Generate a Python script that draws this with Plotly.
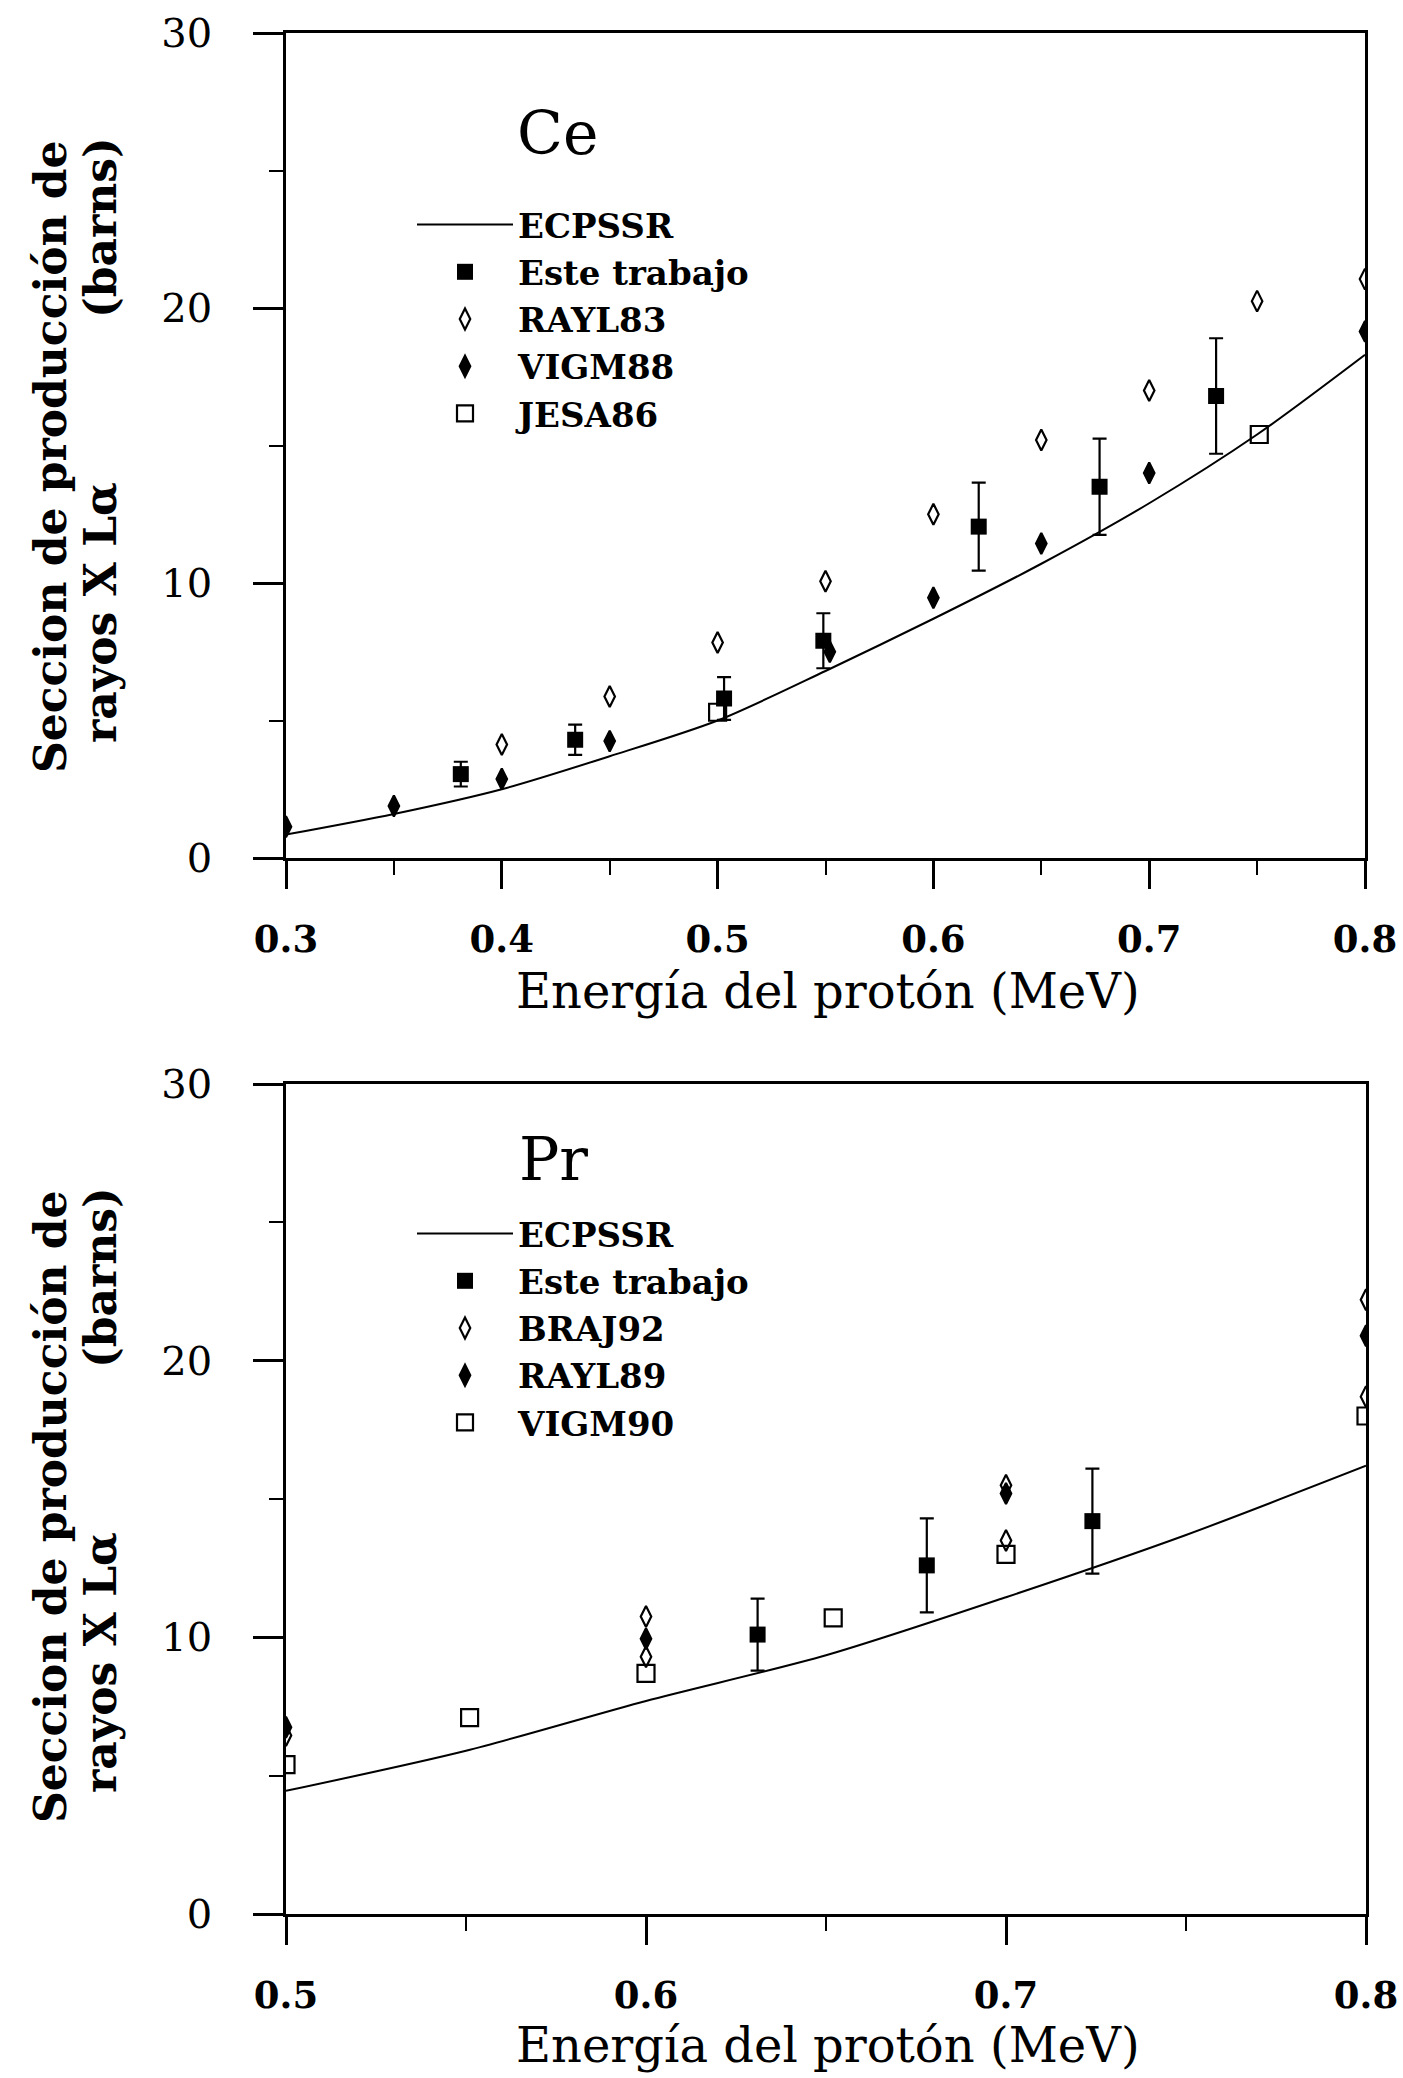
import plotly.graph_objects as go

W, H = 1403, 2078

# ---------------- Ce data ----------------
ce_curve_x = [0.30, 0.35, 0.40, 0.45, 0.50, 0.55, 0.60, 0.65, 0.70, 0.75, 0.80]
ce_curve_y = [0.85, 1.6, 2.5, 3.7, 5.0, 6.8, 8.7, 10.7, 12.9, 15.4, 18.3]

ce_este_x = [0.381, 0.434, 0.503, 0.549, 0.621, 0.677, 0.731]
ce_este_y = [3.05, 4.3, 5.8, 7.9, 12.05, 13.5, 16.8]
ce_este_err = [0.45, 0.55, 0.78, 1.0, 1.6, 1.75, 2.1]

ce_rayl83_x = [0.40, 0.45, 0.50, 0.55, 0.60, 0.65, 0.70, 0.75, 0.80]
ce_rayl83_y = [4.13, 5.87, 7.84, 10.06, 12.5, 15.2, 17.0, 20.25, 21.05]

ce_vigm88_x = [0.30, 0.35, 0.40, 0.45, 0.552, 0.60, 0.65, 0.70, 0.80]
ce_vigm88_y = [1.14, 1.89, 2.87, 4.25, 7.5, 9.46, 11.44, 14.0, 19.15]

ce_jesa86_x = [0.50, 0.751]
ce_jesa86_y = [5.3, 15.4]

# ---------------- Pr data ----------------
pr_curve_x = [0.50, 0.55, 0.60, 0.65, 0.70, 0.75, 0.80]
pr_curve_y = [4.45, 5.9, 7.7, 9.35, 11.45, 13.7, 16.2]

pr_este_x = [0.631, 0.678, 0.724]
pr_este_y = [10.1, 12.6, 14.2]
pr_este_err = [1.3, 1.7, 1.9]

pr_braj92_x = [0.50, 0.60, 0.60, 0.70, 0.70, 0.80, 0.80]
pr_braj92_y = [6.45, 10.75, 9.3, 15.5, 13.5, 22.2, 18.7]

pr_rayl89_x = [0.50, 0.60, 0.70, 0.80]
pr_rayl89_y = [6.75, 9.95, 15.2, 20.9]

pr_vigm90_x = [0.50, 0.551, 0.60, 0.652, 0.70, 0.80]
pr_vigm90_y = [5.4, 7.1, 8.7, 10.7, 13.0, 18.0]

ce_xticks = [0.3, 0.4, 0.5, 0.6, 0.7, 0.8]
pr_xticks = [0.5, 0.6, 0.7, 0.8]
yticks = [0, 10, 20, 30]

SERIF = "DejaVu Serif"
BLACK = "black"

fig = go.Figure()


def add_panel(xa, ya, leg, curve_x, curve_y, este_x, este_y, este_err, series):
    fig.add_trace(go.Scatter(x=curve_x, y=curve_y, mode="lines", name="ECPSSR",
                             line=dict(color=BLACK, width=2, shape="spline", smoothing=0.8),
                             xaxis=xa, yaxis=ya, legend=leg, legendgroup=leg + "a"))
    fig.add_trace(go.Scatter(x=este_x, y=este_y, mode="markers", name="Este trabajo",
                             marker=dict(symbol="square", size=16, color=BLACK),
                             error_y=dict(type="data", array=este_err, visible=True,
                                          color=BLACK, thickness=2.2, width=7),
                             xaxis=xa, yaxis=ya, legend=leg, legendgroup=leg + "b"))
    syms = ["diamond-tall-open", "diamond-tall", "square-open"]
    sizes = [15, 15, 17]
    for i, (nm, sx, sy) in enumerate(series):
        fig.add_trace(go.Scatter(x=sx, y=sy, mode="markers", name=nm,
                                 marker=dict(symbol=syms[i], size=sizes[i], color=BLACK,
                                             line=dict(color=BLACK, width=2.2)),
                                 xaxis=xa, yaxis=ya, legend=leg, legendgroup=leg + "c" + str(i)))


add_panel("x", "y", "legend", ce_curve_x, ce_curve_y, ce_este_x, ce_este_y, ce_este_err,
          [("RAYL83", ce_rayl83_x, ce_rayl83_y),
           ("VIGM88", ce_vigm88_x, ce_vigm88_y),
           ("JESA86", ce_jesa86_x, ce_jesa86_y)])
add_panel("x2", "y2", "legend2", pr_curve_x, pr_curve_y, pr_este_x, pr_este_y, pr_este_err,
          [("BRAJ92", pr_braj92_x, pr_braj92_y),
           ("RAYL89", pr_rayl89_x, pr_rayl89_y),
           ("VIGM90", pr_vigm90_x, pr_vigm90_y)])


def px(v):
    return v / W


def py(v):
    return 1 - v / H


def xaxis_cfg(rng, ticks, domain, anchor):
    return dict(domain=domain, range=rng, anchor=anchor, tickvals=ticks,
                ticktext=[str(t) for t in ticks], automargin=False,
                ticklabeloverflow="allow",
                showline=True, mirror=True, linecolor=BLACK, linewidth=2.5,
                ticks="outside", ticklen=28, tickwidth=2.5, tickcolor=BLACK,
                minor=dict(dtick=0.05, ticks="outside", ticklen=14, tickwidth=2, tickcolor=BLACK),
                showgrid=False, zeroline=False, ticklabelstandoff=19,
                tickfont=dict(family=SERIF, size=37, color=BLACK, weight="bold"))


def yaxis_cfg(domain, anchor):
    return dict(domain=domain, range=[0, 30], anchor=anchor, tickvals=yticks,
                ticktext=[str(t) for t in yticks], automargin=False,
                ticklabeloverflow="allow",
                showline=True, mirror=True, linecolor=BLACK, linewidth=2.5,
                ticks="outside", ticklen=30, tickwidth=2.5, tickcolor=BLACK,
                minor=dict(dtick=5, ticks="outside", ticklen=14, tickwidth=2, tickcolor=BLACK),
                showgrid=False, zeroline=False, ticklabelstandoff=33,
                tickfont=dict(family=SERIF, size=40, color=BLACK))


legend_common = dict(font=dict(family=SERIF, size=34, color=BLACK, weight="bold"),
                     bgcolor="rgba(0,0,0,0)", borderwidth=0, itemwidth=96,
                     tracegroupgap=0, xanchor="left", yanchor="top", itemclick=False)

fig.update_layout(
    width=W, height=H, margin=dict(l=0, r=0, t=0, b=0, autoexpand=False),
    paper_bgcolor="white", plot_bgcolor="white", showlegend=True,
    xaxis=xaxis_cfg([0.3, 0.8], ce_xticks, [px(286), px(1365)], "y"),
    yaxis=yaxis_cfg([py(858), py(33)], "x"),
    xaxis2=xaxis_cfg([0.5, 0.8], pr_xticks, [px(286), px(1366)], "y2"),
    yaxis2=yaxis_cfg([py(1914), py(1084)], "x2"),
    legend=dict(x=px(412), y=py(196), **legend_common),
    legend2=dict(x=px(412), y=py(1205), **legend_common),
)

ann = []
title_font = dict(family=SERIF, size=48, color=BLACK)
ytitle_font = dict(family=SERIF, size=44, color=BLACK, weight="bold")
for (xc, yc, txt) in [(828, 991, "Energía del protón (MeV)"), (828, 2045, "Energía del protón (MeV)")]:
    ann.append(dict(x=px(xc), y=py(yc), xref="paper", yref="paper", text=txt,
                    showarrow=False, font=title_font, xanchor="center", yanchor="middle"))
for off in [0, 1050]:
    ann.append(dict(x=px(50), y=py(457 + off), xref="paper", yref="paper",
                    text="Seccion de producción de", textangle=-90, showarrow=False,
                    font=ytitle_font, xanchor="center", yanchor="middle"))
    ann.append(dict(x=px(100), y=py(613 + off), xref="paper", yref="paper",
                    text="rayos X Lα", textangle=-90, showarrow=False,
                    font=ytitle_font, xanchor="center", yanchor="middle"))
    ann.append(dict(x=px(100), y=py(228 + off), xref="paper", yref="paper",
                    text="(barns)", textangle=-90, showarrow=False,
                    font=ytitle_font, xanchor="center", yanchor="middle"))
ann.append(dict(x=px(557), y=py(133), xref="paper", yref="paper", text="Ce",
                showarrow=False, font=dict(family=SERIF, size=60, color=BLACK),
                xanchor="center", yanchor="middle"))
ann.append(dict(x=px(553), y=py(1159), xref="paper", yref="paper", text="Pr",
                showarrow=False, font=dict(family=SERIF, size=60, color=BLACK),
                xanchor="center", yanchor="middle"))
fig.update_layout(annotations=ann)

fig.write_html("out.html")
